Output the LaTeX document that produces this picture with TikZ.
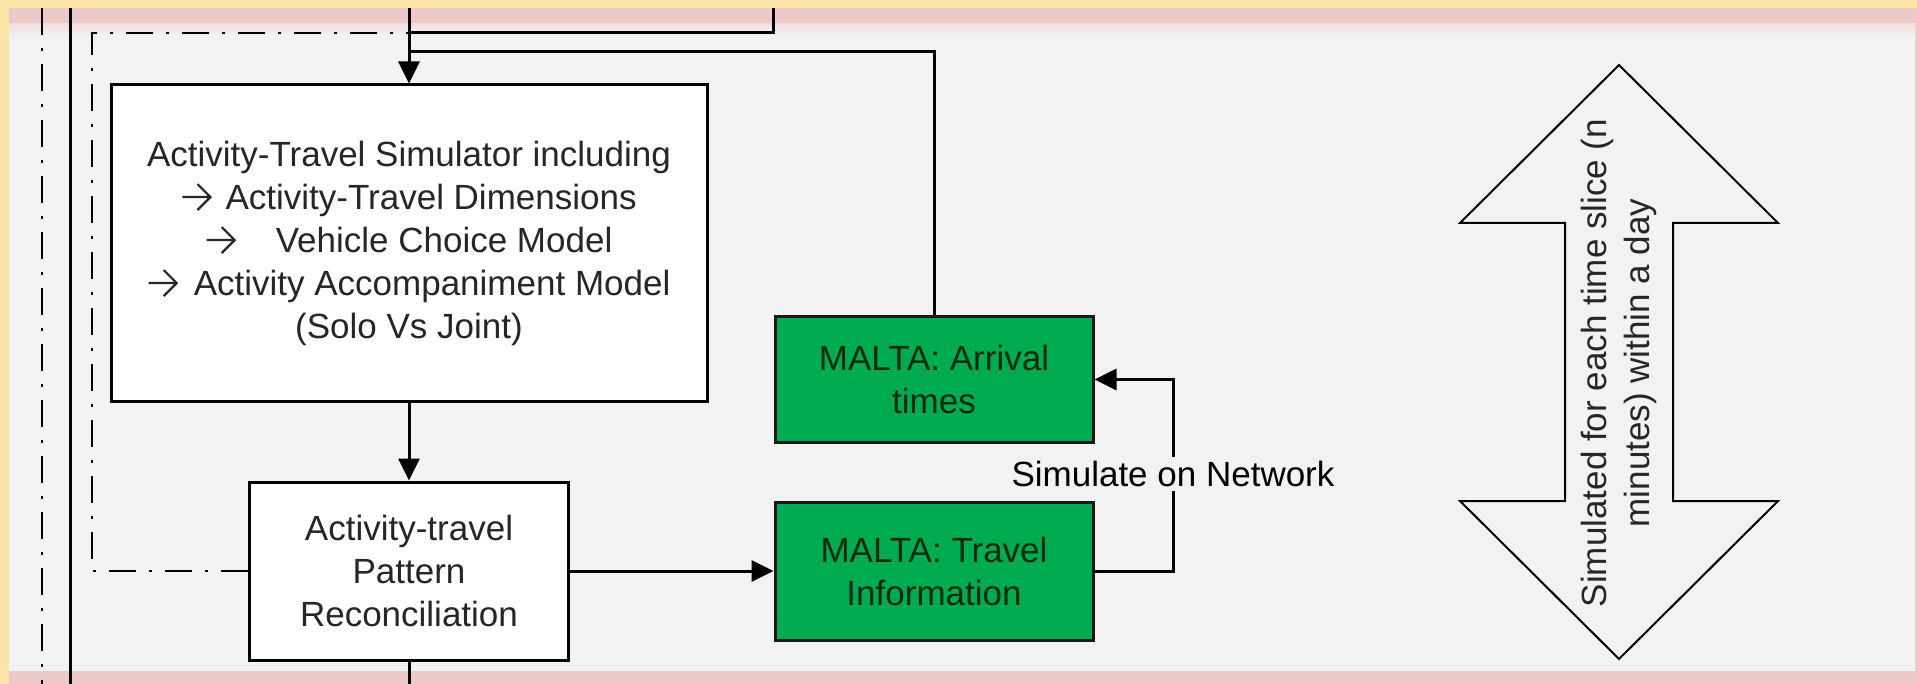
\documentclass[tikz,border=0pt]{standalone}
\usepackage{fontspec}
\setmainfont{Liberation Sans}
\usetikzlibrary{arrows.meta}

\definecolor{slideyellow}{HTML}{FCE4A6}
\definecolor{slidepink}{HTML}{EEC9CA}
\definecolor{slidegray}{HTML}{F2F2F2}
\definecolor{maltagreen}{HTML}{00AA50}
\definecolor{maltatext}{HTML}{0B2A12}

% open arrow used in front of the model list
\newcommand{\chevarrow}{\tikz[baseline=-6pt]\draw[line width=1.1pt, black!85]
  (0pt,0pt) -- (14pt,0pt) (7.5pt,6.5pt) -- (14pt,0pt) -- (7.5pt,-6.5pt);}

\begin{document}
\begin{tikzpicture}[x=0.5pt, y=-0.5pt,
  font=\fontsize{17.5}{21.5}\selectfont,
  box/.style={draw, line width=1.5pt, fill=white, text=black!85, align=center},
  malta/.style={draw=black!90, line width=1.5pt, fill=maltagreen, text=maltatext, align=center, minimum width=159pt},
  link/.style={line width=1.5pt},
  flow/.style={line width=1.5pt, -{Triangle[length=11pt,width=10.5pt]}},
  slicebound/.style={line width=1.4pt, dash pattern=on 13.5pt off 6.5pt on 1.5pt off 6.5pt}]

\useasboundingbox (0,0) rectangle (1917,684);

% slide background
\fill[slideyellow] (0,0) rectangle (1917,684);
\fill[slidepink] (9,8) rectangle (1917,684);
\shade[top color=slidepink!60, bottom color=slidegray] (9,24) rectangle (1915,36);
\fill[slidegray] (9,36) rectangle (1915,671);

\node[box, minimum width=298pt, minimum height=158pt] (sim) at (409,243)
  {Activity-Travel Simulator including\\
   \chevarrow\hspace{7pt}Activity-Travel Dimensions\\
   \chevarrow\hspace{20pt}Vehicle Choice Model\\
   \chevarrow\hspace{8pt}Activity Accompaniment Model\\
   (Solo Vs Joint)};
\node[box, minimum width=159.5pt, minimum height=89pt] (recon) at (409,571)
  {Activity-travel\\Pattern\\Reconciliation};
\node[malta, minimum height=62.5pt] (arrival) at (934,379.5) {MALTA: Arrival\\times};
\node[malta, minimum height=69pt] (travel) at (934,571) {MALTA: Travel\\Information};

\coordinate (outerdash) at (42,8);
\coordinate (outerline) at (70,8);
\coordinate (topin) at (409,8);
\coordinate (fbtop) at (773,8);
\coordinate (loopcorner) at (92,33);
\coordinate (join) at (409,52);
\coordinate (netcorner) at (1173,571);
\coordinate (botout) at (409,684);

% lines coming from above / going below
\draw[slicebound] (outerdash) -- (outerdash |- botout);
\draw[link] (outerline) -- (outerline |- botout);
\draw[flow] (topin) -- (sim.north);
\draw[link] (fbtop) |- (topin |- loopcorner);
\draw[slicebound] (recon.west) -| (loopcorner) -- (topin |- loopcorner);
\draw[link] (arrival.north) |- (join);
\draw[link] (recon.south) -- (botout);

\draw[flow] (sim.south) -- (recon.north);
\draw[flow] (recon.east) -- (travel.west);
\draw[flow] (travel.east) -- (netcorner) |- (arrival.east);
\node[fill=slidegray, inner sep=2pt] (simnet) at (1173,474) {Simulate on Network};

% time slice double arrow
\coordinate (dbl) at (1619,363);
\draw[line width=1pt, fill=slidegray] (dbl) ++(0,-298) -- ++(159,158) -- ++(-105,0)
  -- ++(0,278) -- ++(105,0) -- ++(-159,158) -- ++(-159,-158) -- ++(105,0)
  -- ++(0,-278) -- ++(-105,0) -- cycle;
\node[rotate=90, align=center, text=black!85] (slicetext) at (dbl)
  {Simulated for each time slice (n\\minutes) within a day};

\end{tikzpicture}
\end{document}
